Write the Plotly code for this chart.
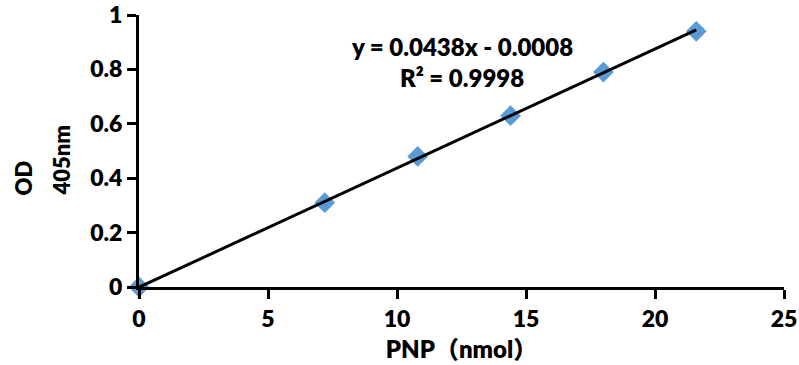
import plotly.graph_objects as go

# Data
pnp_nmol = [0, 7.2, 10.8, 14.4, 18, 21.6]
od405 = [0, 0.31, 0.48, 0.63, 0.79, 0.94]
slope = 0.0438
intercept = -0.0008
r2 = 0.9998
x_ticks = [0, 5, 10, 15, 20, 25]
y_ticks = [0, 0.2, 0.4, 0.6, 0.8, 1]
y_tick_labels = ["0", "0.2", "0.4", "0.6", "0.8", "1"]

FONT = "Lato, Noto Sans CJK SC"
CJK = "Noto Sans CJK SC"
line_x = [pnp_nmol[0], pnp_nmol[-1]]
line_y = [slope * x + intercept for x in line_x]

fig = go.Figure()
fig.add_trace(go.Scatter(
    x=pnp_nmol, y=od405, mode="markers",
    marker=dict(symbol="diamond", size=16, color="#5B9BD5"),
    cliponaxis=False, showlegend=False, hoverinfo="skip",
))
fig.add_trace(go.Scatter(
    x=line_x, y=line_y, mode="lines",
    line=dict(color="black", width=3),
    cliponaxis=False, showlegend=False, hoverinfo="skip",
))

axis_common = dict(
    showline=True, linecolor="black", linewidth=3,
    ticks="outside", ticklen=9, tickwidth=3, tickcolor="black",
    showgrid=False, zeroline=False, automargin=False,
    ticklabeloverflow="allow",
    tickfont=dict(family=FONT, size=23, color="black", weight=800),
)

x_title = (f"PNP<span style='font-family:{CJK}'>（</span>nmol"
           f"<span style='font-family:{CJK}'>）</span>")
fig.update_xaxes(range=[0, 25], tickvals=x_ticks, **axis_common,
                 title=dict(text=x_title, standoff=14,
                            font=dict(family=FONT, size=24, color="black", weight=800)))
fig.update_yaxes(range=[0, 1], tickvals=y_ticks, ticktext=y_tick_labels, **axis_common)

# Y-axis title (two lines, rotated)
for txt, px in [("OD", 23), ("405nm", 61)]:
    fig.add_annotation(
        text=txt, xref="paper", yref="paper",
        x=(px - 139) / 645, y=(287 - 198) / 272,
        xanchor="center", yanchor="bottom", textangle=-90, showarrow=False,
        font=dict(family=FONT, size=22, color="black", weight=800),
    )

fig.add_annotation(
    text=f"y = {slope}x - {abs(intercept):.4f}", xref="paper", yref="paper",
    x=(462 - 139) / 645, y=(287 - 46) / 272, xanchor="center", yanchor="middle",
    showarrow=False, font=dict(family=FONT, size=24, color="black", weight=800),
)
fig.add_annotation(
    text=f"R² = {r2}", xref="paper", yref="paper",
    x=(462 - 139) / 645, y=(287 - 78) / 272, xanchor="center", yanchor="middle",
    showarrow=False, font=dict(family=FONT, size=24, color="black", weight=800),
)

fig.update_layout(
    width=799, height=365,
    margin=dict(l=139, r=15, t=15, b=78),
    paper_bgcolor="white", plot_bgcolor="white",
)

# remove the page's default 8px body margin so the figure fills the window
fig.write_html(
    "out.html",
    config={"displayModeBar": False},
    post_script="document.body.style.margin='0';document.body.style.overflow='hidden';",
)
